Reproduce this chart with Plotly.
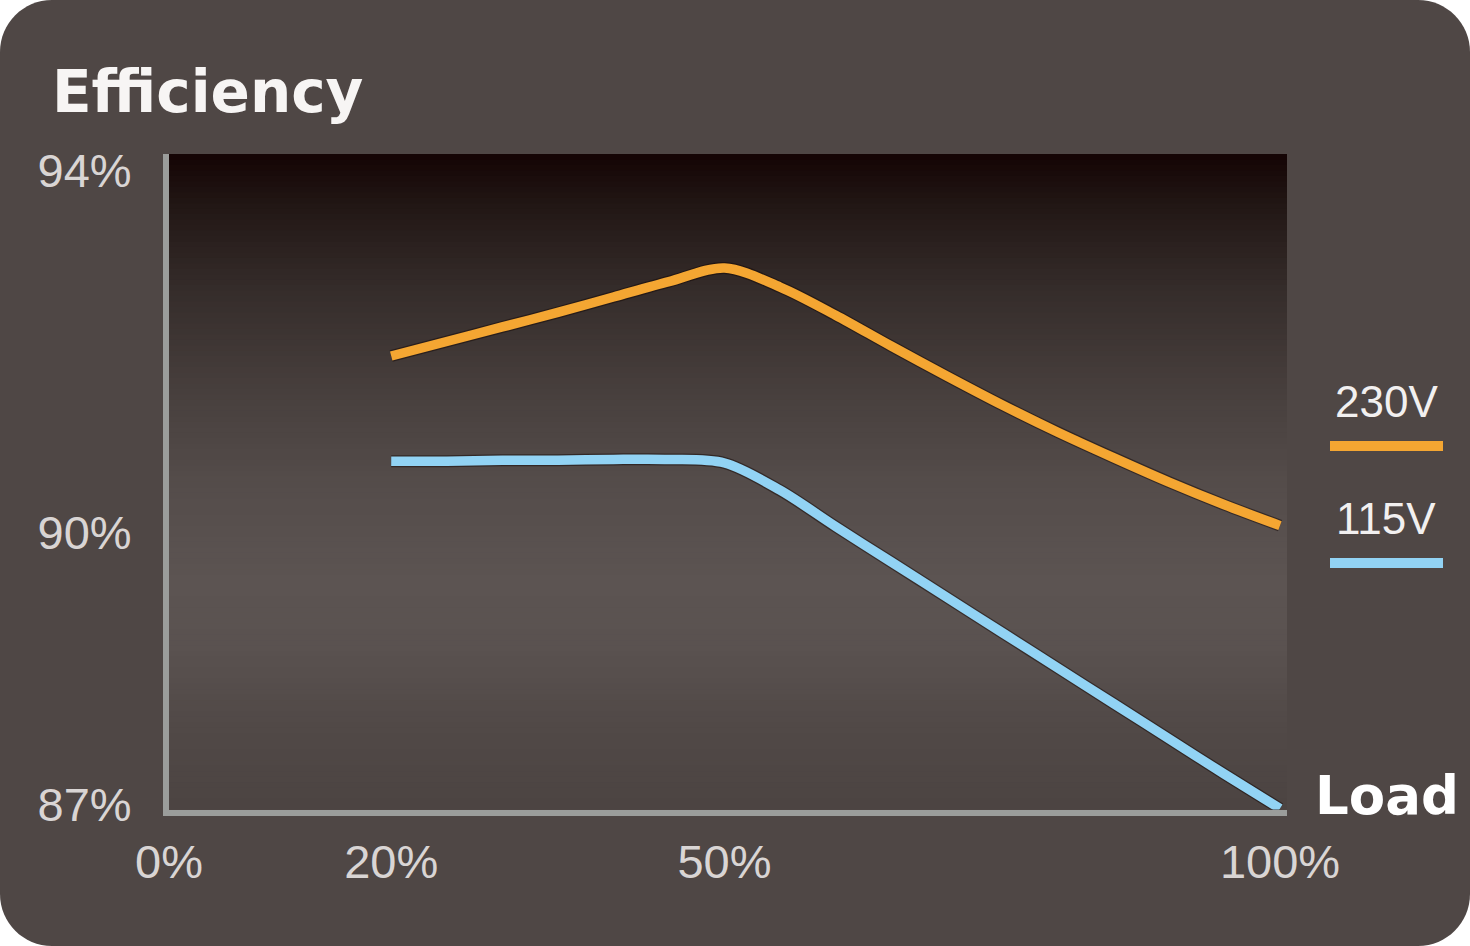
import plotly.graph_objects as go

# ---------------- data ----------------
load_pct = [20, 25, 30, 35, 40, 45, 50, 55, 60, 65, 70, 75, 80, 85, 90, 95, 100]
eff_230v = [91.95, 92.11, 92.27, 92.43, 92.60, 92.77, 92.92, 92.71, 92.40, 92.06, 91.73,
            91.41, 91.11, 90.83, 90.56, 90.31, 90.08]
eff_115v = [90.79, 90.79, 90.80, 90.80, 90.81, 90.81, 90.77, 90.47, 90.07, 89.68, 89.29,
            88.90, 88.51, 88.12, 87.73, 87.34, 86.96]

x_tickvals = [0, 20, 50, 100]
x_ticktext = ["0%", "20%", "50%", "100%"]
y_tickvals = [87, 90, 94]
y_ticktext = ["87%", "90%", "94%"]

series_names = ["230V", "115V"]
series_colors = ["#f4a632", "#92d3f4"]

# ---------------- layout geometry ----------------
W, H = 1470, 946
BG = "#4f4745"


def px(xp):
    return xp / W


def py(yp):
    return 1 - yp / H


fig = go.Figure()

# subtle dark outline under each line
for ys in (eff_230v, eff_115v):
    fig.add_trace(go.Scatter(
        x=load_pct, y=ys, mode="lines",
        line=dict(color="rgba(20,8,6,0.5)", width=12, shape="spline", smoothing=0.9),
        hoverinfo="skip", showlegend=False, cliponaxis=False))

for name, ys, col in zip(series_names, [eff_230v, eff_115v], series_colors):
    fig.add_trace(go.Scatter(
        x=load_pct, y=ys, mode="lines", name=name,
        line=dict(color=col, width=9.5, shape="spline", smoothing=0.9),
        showlegend=False, cliponaxis=False))

shapes = []

# rounded card background
r = 52
k = 0.5523 * r
path = (
    f"M {px(r)},{py(0)} L {px(W - r)},{py(0)} "
    f"C {px(W - r + k)},{py(0)} {px(W)},{py(r - k)} {px(W)},{py(r)} "
    f"L {px(W)},{py(H - r)} "
    f"C {px(W)},{py(H - r + k)} {px(W - r + k)},{py(H)} {px(W - r)},{py(H)} "
    f"L {px(r)},{py(H)} "
    f"C {px(r - k)},{py(H)} {px(0)},{py(H - r + k)} {px(0)},{py(H - r)} "
    f"L {px(0)},{py(r)} "
    f"C {px(0)},{py(r - k)} {px(r - k)},{py(0)} {px(r)},{py(0)} Z"
)
shapes.append(dict(type="path", path=path, xref="paper", yref="paper",
                   fillcolor=BG, line=dict(width=0), layer="below"))

# vertical gradient of the plot area (top -> bottom)
stops = [
    (0.00, (20, 4, 4)),
    (0.08, (34, 23, 21)),
    (0.20, (52, 43, 41)),
    (0.35, (70, 62, 60)),
    (0.50, (84, 76, 74)),
    (0.65, (92, 84, 82)),
    (0.75, (90, 82, 80)),
    (0.87, (81, 73, 71)),
    (1.00, (76, 68, 66)),
]


def grad(t):
    for (t0, c0), (t1, c1) in zip(stops[:-1], stops[1:]):
        if t0 <= t <= t1:
            f = (t - t0) / (t1 - t0) if t1 > t0 else 0
            return "rgb(%d,%d,%d)" % tuple(round(a + (b - a) * f) for a, b in zip(c0, c1))
    return "rgb(%d,%d,%d)" % stops[-1][1]


N = 120
for i in range(N):
    t = (i + 0.5) / N
    shapes.append(dict(type="rect", xref="x domain", yref="y domain",
                       x0=0, x1=1, y0=max(0, 1 - (i + 1) / N - 0.002), y1=1 - i / N,
                       fillcolor=grad(t), line=dict(width=0), layer="below"))

# legend swatches
for yy, col in zip([446, 563], series_colors):
    shapes.append(dict(type="line", xref="paper", yref="paper",
                       x0=px(1330), x1=px(1443), y0=py(yy), y1=py(yy),
                       line=dict(color=col, width=10)))

annotations = [
    dict(text="<b>Efficiency</b>", x=px(50), y=py(92), xref="paper", yref="paper",
         xanchor="left", yanchor="middle", showarrow=False,
         font=dict(family="DejaVu Sans", size=58, color="#f7f5f4")),
    dict(text="<b>Load</b>", x=px(1313), y=py(795), xref="paper", yref="paper",
         xanchor="left", yanchor="middle", showarrow=False,
         font=dict(family="DejaVu Sans", size=53, color="#ffffff")),
]
for name, yy in zip(series_names, [402, 518]):
    annotations.append(dict(text=name, x=px(1386), y=py(yy), xref="paper", yref="paper",
                            xanchor="center", yanchor="middle", showarrow=False,
                            font=dict(family="Liberation Sans, Arial", size=44, color="#f2f0f0")))

fig.update_layout(
    width=W, height=H, autosize=False,
    margin=dict(l=0, r=0, t=0, b=0, pad=0),
    paper_bgcolor="white", plot_bgcolor="rgba(0,0,0,0)",
    shapes=shapes, annotations=annotations, showlegend=False,
    xaxis=dict(domain=[px(169), px(1287)], range=[0, 100.63],
               tickvals=x_tickvals, ticktext=x_ticktext, ticks="",
               showgrid=False, zeroline=False, showline=True,
               linecolor="#9b9d9b", linewidth=6, automargin=False,
               ticklabelstandoff=6,
               tickfont=dict(family="Liberation Sans, Arial", size=47, color="#d9d5d4")),
    yaxis=dict(domain=[py(809.5), py(154)], range=[86.95, 94.177],
               tickvals=y_tickvals, ticktext=y_ticktext, ticks="",
               showgrid=False, zeroline=False, showline=True,
               linecolor="#9b9d9b", linewidth=6, automargin=False,
               ticklabelstandoff=22,
               tickfont=dict(family="Liberation Sans, Arial", size=47, color="#d9d5d4")),
)

fig.write_html("out.html")
